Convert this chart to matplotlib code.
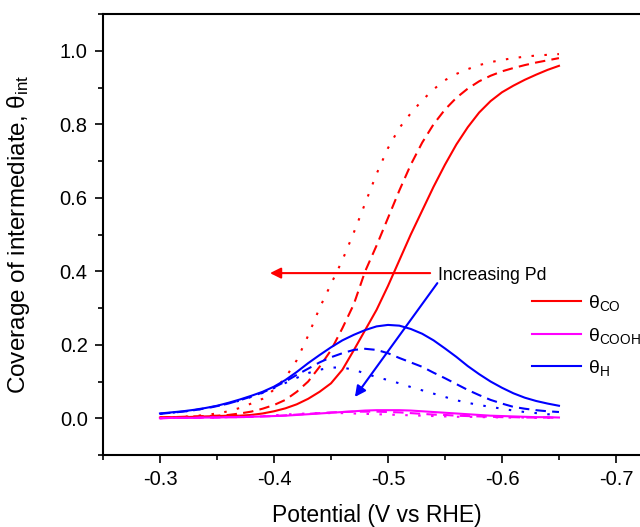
import numpy as np
import matplotlib
matplotlib.use('Agg')
import matplotlib.pyplot as plt
from matplotlib.ticker import MultipleLocator
from matplotlib.lines import Line2D

plt.rcParams['font.family'] = ['Liberation Sans', 'DejaVu Sans']
plt.rcParams['mathtext.fontset'] = 'custom'
plt.rcParams['mathtext.rm'] = 'Liberation Sans'
plt.rcParams['axes.unicode_minus'] = False

# Potencial (V vs RHE), de -0.30 a -0.65 cada 0.01 V
potential = np.round(np.linspace(-0.30, -0.65, 36), 2)

# Cobertura de CO (solido, guiones, puntos = Pd creciente)
co_solid = [0.002, 0.003, 0.003, 0.004, 0.005, 0.006, 0.007, 0.007, 0.009, 0.013,
            0.019, 0.027, 0.038, 0.053, 0.072, 0.095, 0.132, 0.185, 0.24, 0.295,
            0.36, 0.43, 0.50, 0.565, 0.63, 0.69, 0.745, 0.792, 0.832, 0.863,
            0.887, 0.905, 0.921, 0.935, 0.948, 0.959]
co_dash = [0.002, 0.003, 0.004, 0.005, 0.006, 0.007, 0.009, 0.013, 0.018, 0.026,
           0.036, 0.050, 0.072, 0.10, 0.14, 0.185, 0.245, 0.31, 0.40, 0.47,
           0.545, 0.62, 0.69, 0.75, 0.80, 0.84, 0.872, 0.897, 0.917, 0.932,
           0.944, 0.953, 0.961, 0.968, 0.974, 0.98]
co_dot = [0.002, 0.003, 0.004, 0.006, 0.009, 0.013, 0.019, 0.028, 0.040, 0.053,
          0.078, 0.11, 0.158, 0.225, 0.30, 0.365, 0.43, 0.505, 0.585, 0.665,
          0.735, 0.79, 0.83, 0.865, 0.895, 0.92, 0.937, 0.95, 0.961, 0.969,
          0.975, 0.98, 0.984, 0.987, 0.989, 0.991]

# Cobertura de COOH
cooh_solid = [0.000, 0.001, 0.001, 0.001, 0.002, 0.002, 0.003, 0.003, 0.004, 0.005,
              0.006, 0.007, 0.009, 0.011, 0.013, 0.015, 0.017, 0.019, 0.021, 0.022,
              0.022, 0.022, 0.021, 0.019, 0.017, 0.015, 0.013, 0.011, 0.009, 0.007,
              0.006, 0.005, 0.004, 0.003, 0.003, 0.002]
cooh_dash = [0.000, 0.001, 0.001, 0.001, 0.002, 0.002, 0.003, 0.003, 0.004, 0.005,
             0.006, 0.008, 0.010, 0.012, 0.014, 0.016, 0.017, 0.018, 0.018, 0.018,
             0.017, 0.016, 0.014, 0.012, 0.010, 0.009, 0.007, 0.006, 0.005, 0.004,
             0.003, 0.003, 0.002, 0.002, 0.002, 0.001]
cooh_dot = [0.000, 0.001, 0.001, 0.001, 0.002, 0.002, 0.003, 0.004, 0.005, 0.006,
            0.008, 0.010, 0.012, 0.013, 0.014, 0.014, 0.014, 0.013, 0.012, 0.011,
            0.010, 0.009, 0.008, 0.007, 0.006, 0.005, 0.004, 0.004, 0.003, 0.003,
            0.002, 0.002, 0.002, 0.001, 0.001, 0.001]

# Cobertura de H
h_solid = [0.013, 0.016, 0.019, 0.023, 0.028, 0.034, 0.042, 0.051, 0.061, 0.072,
           0.086, 0.104, 0.126, 0.15, 0.172, 0.193, 0.212, 0.227, 0.24, 0.25,
           0.254, 0.252, 0.243, 0.23, 0.212, 0.19, 0.167, 0.142, 0.12, 0.1,
           0.083, 0.068, 0.056, 0.047, 0.040, 0.034]
h_dash = [0.012, 0.015, 0.018, 0.022, 0.027, 0.033, 0.040, 0.049, 0.059, 0.07,
          0.084, 0.10, 0.118, 0.135, 0.152, 0.166, 0.177, 0.186, 0.189, 0.186,
          0.177, 0.164, 0.152, 0.14, 0.124, 0.109, 0.093, 0.077, 0.063, 0.05,
          0.04, 0.031, 0.026, 0.022, 0.019, 0.017]
h_dot = [0.012, 0.015, 0.018, 0.022, 0.027, 0.033, 0.040, 0.048, 0.058, 0.069,
         0.082, 0.096, 0.11, 0.123, 0.132, 0.138, 0.138, 0.132, 0.122, 0.112,
         0.104, 0.095, 0.085, 0.076, 0.067, 0.058, 0.049, 0.042, 0.036, 0.031,
         0.026, 0.021, 0.017, 0.014, 0.011, 0.009]

RED, MAG, BLUE = '#FF0000', '#FF00FF', '#0000FF'
DASH = (0, (5, 3))
DOT = (0, (1.2, 5))

fig = plt.figure(figsize=(6.4, 5.27), dpi=100)
# el eje derecho queda fuera de la imagen, como en el original
ax = fig.add_axes([0.1609, 0.1366, 0.8906, 0.8368])

lw = 1.5
ax.plot(potential, co_solid, color=RED, lw=lw)
ax.plot(potential, co_dash, color=RED, lw=lw, linestyle=DASH)
ax.plot(potential, co_dot, color=RED, lw=lw, linestyle=DOT)
ax.plot(potential, h_solid, color=BLUE, lw=lw)
ax.plot(potential, h_dash, color=BLUE, lw=lw, linestyle=DASH)
ax.plot(potential, h_dot, color=BLUE, lw=lw, linestyle=DOT)
ax.plot(potential, cooh_solid, color=MAG, lw=lw)
ax.plot(potential, cooh_dash, color=MAG, lw=lw, linestyle=DASH)
ax.plot(potential, cooh_dot, color=MAG, lw=lw, linestyle=DOT)

ax.set_xlim(-0.25, -0.75)
ax.set_ylim(-0.1, 1.1)
ax.xaxis.set_minor_locator(MultipleLocator(0.05))
ax.yaxis.set_minor_locator(MultipleLocator(0.1))
ax.set_xticks([-0.3, -0.4, -0.5, -0.6, -0.7])
ax.set_xticklabels(['-0.3', '-0.4', '-0.5', '-0.6', '-0.7'])
ax.set_yticks([0.0, 0.2, 0.4, 0.6, 0.8, 1.0])
ax.set_yticklabels(['0.0', '0.2', '0.4', '0.6', '0.8', '1.0'])
ax.tick_params(which='major', direction='out', length=6, width=1.2, labelsize=14.5, pad=5)
ax.tick_params(which='minor', direction='out', length=3.5, width=1.2)
for s in ax.spines.values():
    s.set_linewidth(1.5)

ax.set_xlabel('Potential (V vs RHE)', fontsize=16.5)
ax.xaxis.set_label_coords(0.4807, -0.112)
ax.set_ylabel(r'Coverage of intermediate, $\mathrm{θ_{int}}$', fontsize=17.5)
ax.yaxis.set_label_coords(-0.125, 0.5)

# Flechas de "Increasing Pd"
ax.annotate('', xy=(-0.3965, 0.395), xytext=(-0.537, 0.395),
            arrowprops=dict(arrowstyle='-|>', color=RED, lw=1.5, mutation_scale=16,
                            shrinkA=0, shrinkB=0))
ax.annotate('', xy=(-0.471, 0.058), xytext=(-0.5433, 0.3677),
            arrowprops=dict(arrowstyle='-|>', color=BLUE, lw=1.5, mutation_scale=16,
                            shrinkA=0, shrinkB=0))
ax.text(-0.5439, 0.375, 'Increasing Pd', fontsize=12.8, va='baseline', ha='left')

handles = [Line2D([], [], color=RED, lw=lw),
           Line2D([], [], color=MAG, lw=lw),
           Line2D([], [], color=BLUE, lw=lw)]
labels = [r'$\mathrm{θ_{CO}}$', r'$\mathrm{θ_{COOH}}$', r'$\mathrm{θ_{H}}$']
fig.legend(handles, labels, loc='upper left', bbox_to_anchor=(0.832, 0.444),
           frameon=False, fontsize=14, handlelength=2.5, handletextpad=0.35,
           labelspacing=0.65, borderpad=0, borderaxespad=0)

fig.savefig('out.png', dpi=100)
